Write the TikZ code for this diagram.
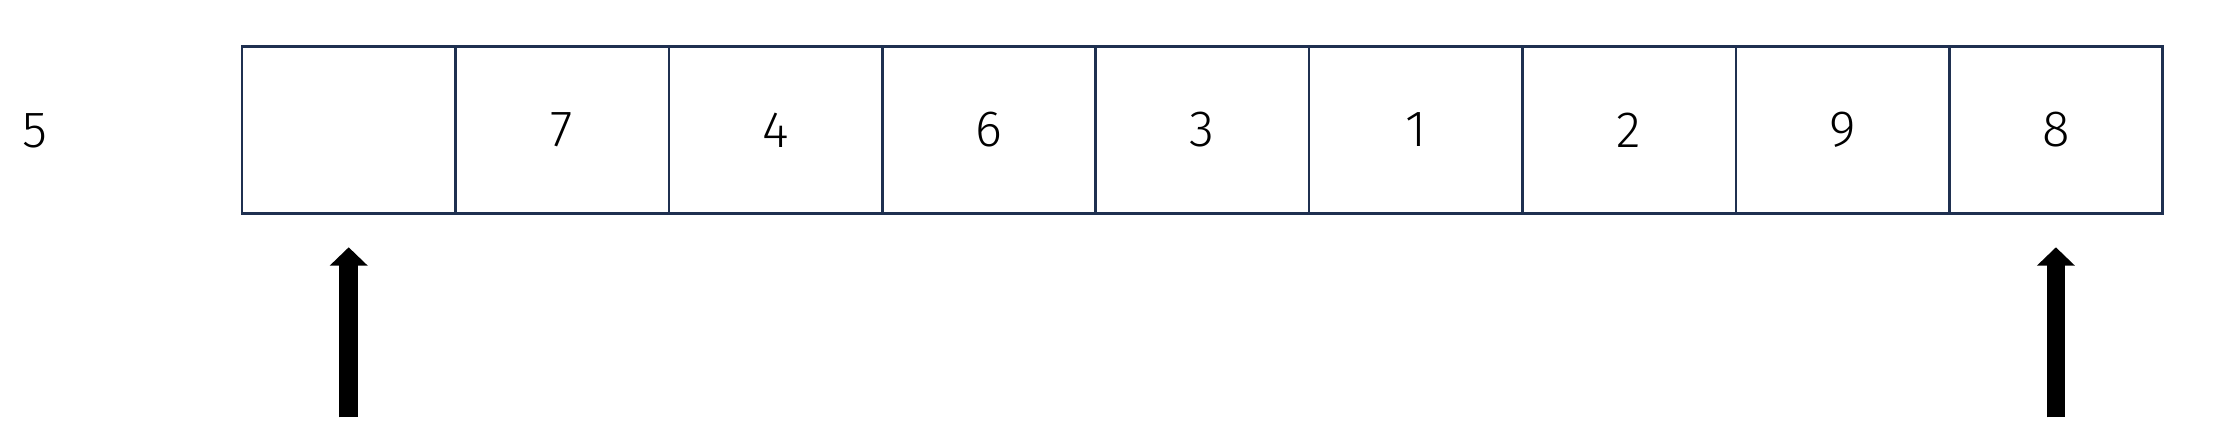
\documentclass[tikz,border=0pt]{standalone}
\usepackage{fontspec}
\setmainfont{Fira Sans Light}
\usetikzlibrary{arrows.meta}
\definecolor{navy}{HTML}{1F3050}
\tikzset{
  cell/.style={draw=navy, line width=2.6pt, minimum width=213.4pt, minimum height=166.6pt, inner sep=0pt, font=\fontsize{51}{56}\selectfont},
  lbl/.style={inner sep=0pt, font=\fontsize{51}{56}\selectfont},
  bigarrow/.style={line width=18.7pt, -{Triangle[width=37pt,length=18.4pt]}, black}
}
\begin{document}
\begin{tikzpicture}[x=1pt,y=-1pt]
\useasboundingbox (0,0) rectangle (2216,435);
\node[lbl] (key) at (35,131) {5};
\foreach \v [count=\i] in {{},7,4,6,3,1,2,9,8} {
  \node[cell] (c\i) at ({242+213.4*(\i-0.5)},130) {\v};
}
\coordinate (t1) at (348.7,247.3);
\coordinate (b1) at (348.7,417.3);
\coordinate (t9) at (2055.9,247.3);
\coordinate (b9) at (2055.9,417.3);
\draw[bigarrow] (b1) -- (t1);
\draw[bigarrow] (b9) -- (t9);
\end{tikzpicture}
\end{document}
